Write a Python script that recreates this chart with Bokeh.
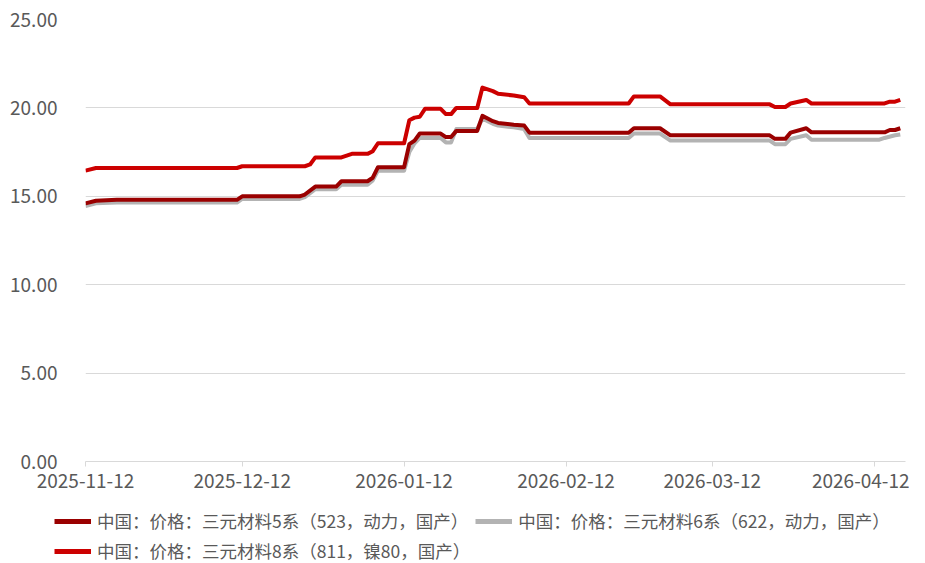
import pandas as pd
from bokeh.plotting import figure
from bokeh.models import (Range1d, FixedTicker, NumeralTickFormatter, DatetimeTickFormatter,
                          Legend, LegendItem, ColumnDataSource)
from bokeh.embed import file_html
from bokeh.resources import INLINE

# ---------------- data ----------------
S523_DATES = ["2025-11-12", "2025-11-14", "2025-11-18", "2025-12-11", "2025-12-12", "2025-12-23",
              "2025-12-24", "2025-12-26", "2025-12-30", "2025-12-31", "2026-01-05", "2026-01-06",
              "2026-01-07", "2026-01-12", "2026-01-13", "2026-01-14", "2026-01-15", "2026-01-19",
              "2026-01-20", "2026-01-21", "2026-01-22", "2026-01-26", "2026-01-27", "2026-01-28",
              "2026-01-29", "2026-01-30", "2026-02-02", "2026-02-04", "2026-02-05", "2026-02-24",
              "2026-02-25", "2026-03-02", "2026-03-04", "2026-03-23", "2026-03-24", "2026-03-26",
              "2026-03-27", "2026-03-30", "2026-03-31", "2026-04-14", "2026-04-15", "2026-04-16",
              "2026-04-17"]
S523_VALUES = [14.60, 14.75, 14.80, 14.80, 15.00, 15.00,
               15.10, 15.55, 15.55, 15.85, 15.85, 16.05,
               16.65, 16.65, 17.95, 18.15, 18.55, 18.55,
               18.35, 18.35, 18.70, 18.70, 19.55, 19.40,
               19.25, 19.15, 19.05, 19.00, 18.60, 18.60,
               18.85, 18.85, 18.45, 18.45, 18.25, 18.25,
               18.60, 18.85, 18.62, 18.62, 18.75, 18.75,
               18.85]

S622_DATES = ["2025-11-12", "2025-11-14", "2025-11-18", "2025-12-11", "2025-12-12", "2025-12-23",
              "2025-12-24", "2025-12-26", "2025-12-30", "2025-12-31", "2026-01-05", "2026-01-06",
              "2026-01-07", "2026-01-12", "2026-01-13", "2026-01-14", "2026-01-15", "2026-01-19",
              "2026-01-20", "2026-01-21", "2026-01-22", "2026-01-26", "2026-01-27", "2026-01-28",
              "2026-01-29", "2026-01-30", "2026-02-02", "2026-02-04", "2026-02-05", "2026-02-24",
              "2026-02-25", "2026-03-02", "2026-03-04", "2026-03-23", "2026-03-24", "2026-03-26",
              "2026-03-27", "2026-03-30", "2026-03-31", "2026-04-13", "2026-04-14", "2026-04-16",
              "2026-04-17"]
S622_VALUES = [14.45, 14.60, 14.65, 14.65, 14.85, 14.85,
               14.95, 15.40, 15.40, 15.65, 15.65, 15.90,
               16.45, 16.45, 17.50, 18.00, 18.30, 18.30,
               18.05, 18.05, 18.80, 18.80, 19.40, 19.25,
               19.10, 19.00, 18.90, 18.80, 18.30, 18.30,
               18.55, 18.55, 18.15, 18.15, 17.95, 17.95,
               18.25, 18.45, 18.20, 18.20, 18.30, 18.45,
               18.50]

S811_DATES = ["2025-11-12", "2025-11-14", "2025-12-11", "2025-12-12", "2025-12-24", "2025-12-25",
              "2025-12-26", "2025-12-31", "2026-01-02", "2026-01-05", "2026-01-06", "2026-01-07",
              "2026-01-12", "2026-01-13", "2026-01-14", "2026-01-15", "2026-01-16", "2026-01-19",
              "2026-01-20", "2026-01-21", "2026-01-22", "2026-01-26", "2026-01-27", "2026-01-28",
              "2026-01-29", "2026-01-30", "2026-02-02", "2026-02-04", "2026-02-05", "2026-02-24",
              "2026-02-25", "2026-03-02", "2026-03-04", "2026-03-23", "2026-03-24", "2026-03-26",
              "2026-03-27", "2026-03-30", "2026-03-31", "2026-04-14", "2026-04-15", "2026-04-16",
              "2026-04-17"]
S811_VALUES = [16.45, 16.60, 16.60, 16.70, 16.70, 16.80,
               17.20, 17.20, 17.40, 17.40, 17.55, 18.00,
               18.00, 19.30, 19.45, 19.50, 19.95, 19.95,
               19.65, 19.65, 20.00, 20.00, 21.15, 21.05,
               20.95, 20.80, 20.70, 20.60, 20.25, 20.25,
               20.65, 20.65, 20.20, 20.20, 20.05, 20.05,
               20.25, 20.45, 20.25, 20.25, 20.35, 20.35,
               20.45]

SERIES_NAMES = ["中国：价格：三元材料5系（523，动力，国产）",
                "中国：价格：三元材料6系（622，动力，国产）",
                "中国：价格：三元材料8系（811，镍80，国产）"]
SERIES_COLORS = ["#9a0000", "#b3b3b3", "#cc0000"]
X_TICKS = ["2025-11-12", "2025-12-12", "2026-01-12", "2026-02-12", "2026-03-12", "2026-04-12"]
X_START, X_END = "2025-11-12", "2026-04-18"
Y_TICKS = [0, 5, 10, 15, 20, 25]

FONT = "Noto Sans CJK SC"
TXT = "#595959"
GRID = "#d9d9d9"
W = 909

p = figure(width=W, height=500, output_backend="svg", toolbar_location=None,
           x_axis_type="datetime",
           x_range=Range1d(pd.Timestamp(X_START), pd.Timestamp(X_END)),
           y_range=Range1d(0, 25),
           min_border_left=85, min_border_right=4, min_border_top=19, min_border_bottom=39)
p.outline_line_color = None
p.background_fill_color = "white"
p.border_fill_color = "white"

src5 = ColumnDataSource(dict(x=pd.to_datetime(S523_DATES), y=S523_VALUES))
src6 = ColumnDataSource(dict(x=pd.to_datetime(S622_DATES), y=S622_VALUES))
src8 = ColumnDataSource(dict(x=pd.to_datetime(S811_DATES), y=S811_VALUES))

p.line("x", "y", source=src6, line_color=SERIES_COLORS[1], line_width=4, line_join="round")
p.line("x", "y", source=src5, line_color=SERIES_COLORS[0], line_width=4, line_join="round")
p.line("x", "y", source=src8, line_color=SERIES_COLORS[2], line_width=4, line_join="round")

# axes
xa = p.xaxis[0]
xa.ticker = FixedTicker(ticks=[pd.Timestamp(t).value / 1e6 for t in X_TICKS])
xa.formatter = DatetimeTickFormatter(days="%Y-%m-%d", months="%Y-%m-%d", years="%Y-%m-%d",
                                     hours="%Y-%m-%d", minutes="%Y-%m-%d")
xa.axis_line_color = GRID
xa.major_tick_line_color = GRID
xa.major_tick_out = 5
xa.major_tick_in = 0
xa.minor_tick_line_color = None
xa.major_label_text_font = FONT
xa.major_label_text_font_size = "19px"
xa.major_label_text_color = TXT
xa.major_label_standoff = 7

ya = p.yaxis[0]
ya.ticker = FixedTicker(ticks=Y_TICKS)
ya.formatter = NumeralTickFormatter(format="0.00")
ya.axis_line_color = None
ya.major_tick_line_color = None
ya.minor_tick_line_color = None
ya.major_label_text_font = FONT
ya.major_label_text_font_size = "19px"
ya.major_label_text_color = TXT
ya.major_label_standoff = 22

p.xgrid.grid_line_color = None
p.ygrid.grid_line_color = GRID
p.ygrid.grid_line_width = 1

# legend strip below the chart (separate root so its frame spans the full width)
lf = figure(width=W, height=63, output_backend="svg", toolbar_location=None,
            x_range=Range1d(0, 1), y_range=Range1d(0, 1),
            x_axis_location=None, y_axis_location=None, min_border=0)
lf.outline_line_color = None
lf.xgrid.grid_line_color = None
lf.ygrid.grid_line_color = None
# dummy renderers, placed outside the visible range: only their legend glyphs show
dummies = [lf.line(x=[-2, -1], y=[-2, -1], line_color=c, line_width=5) for c in SERIES_COLORS]

legend = Legend(items=[LegendItem(label=n, renderers=[r]) for n, r in zip(SERIES_NAMES, dummies)],
                orientation="horizontal", ncols=2,
                location=(54, 0),
                label_text_font=FONT, label_text_font_size="17.5px", label_text_color=TXT,
                glyph_width=37, glyph_height=20, label_height=20, label_standoff=6, spacing=5,
                padding=0, margin=0, border_line_color=None, background_fill_alpha=0)
lf.add_layout(legend, "center")

open("out.html", "w").write(file_html([p, lf], INLINE))
